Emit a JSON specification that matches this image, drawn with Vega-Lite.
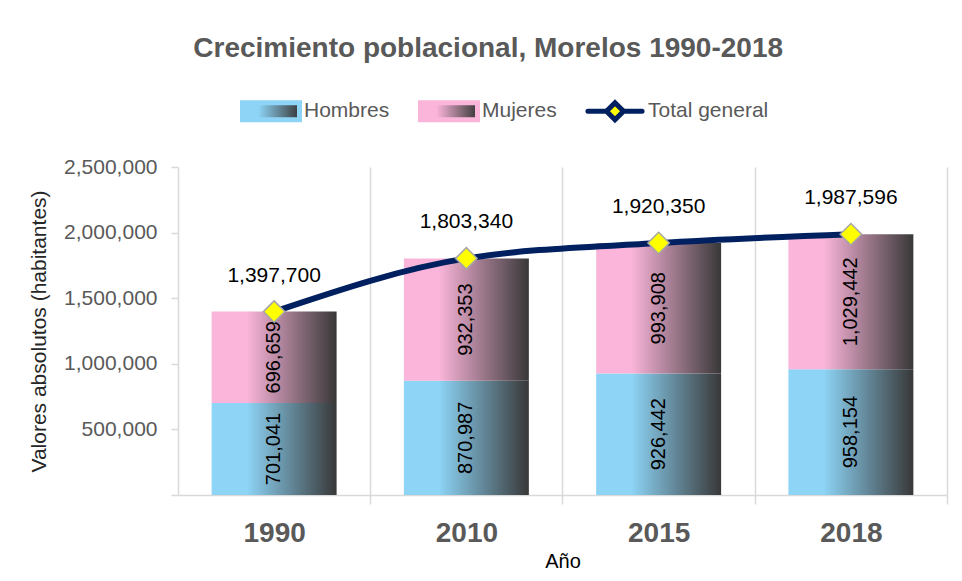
{
  "$schema": "https://vega.github.io/schema/vega-lite/v6.json",
  "width": 769,
  "height": 328,
  "autosize": {"type": "none"},
  "padding": {"left": 178, "top": 167, "right": 15, "bottom": 86},
  "background": "white",
  "title": {
    "text": "Crecimiento poblacional, Morelos 1990-2018",
    "font": "Liberation Sans",
    "fontSize": 28,
    "fontWeight": "bold",
    "color": "#595959",
    "anchor": "middle",
    "frame": "bounds",
    "offset": 17
  },
  "datasets": {
    "barras": [
      {"anio": "1990", "serie": "Hombres", "valor": 701041},
      {"anio": "1990", "serie": "Mujeres", "valor": 696659},
      {"anio": "2010", "serie": "Hombres", "valor": 870987},
      {"anio": "2010", "serie": "Mujeres", "valor": 932353},
      {"anio": "2015", "serie": "Hombres", "valor": 926442},
      {"anio": "2015", "serie": "Mujeres", "valor": 993908},
      {"anio": "2018", "serie": "Hombres", "valor": 958154},
      {"anio": "2018", "serie": "Mujeres", "valor": 1029442}
    ],
    "total": [
      {"anio": "1990", "total": 1397700},
      {"anio": "2010", "total": 1803340},
      {"anio": "2015", "total": 1920350},
      {"anio": "2018", "total": 1987596}
    ]
  },
  "layer": [
    {
      "data": {"name": "barras"},
      "transform": [
        {"stack": "valor", "groupby": ["anio"], "sort": [{"field": "serie", "order": "ascending"}], "as": ["v0", "v1"]},
        {"filter": "datum.serie === 'Hombres'"}
      ],
      "mark": {
        "type": "bar",
        "color": {"gradient": "linear", "stops": [
          {"offset": 0, "color": "#8DD4F6"},
          {"offset": 0.28, "color": "#8DD4F6"},
          {"offset": 1, "color": "#383838"}
        ]}
      },
      "encoding": {
        "x": {
          "field": "anio", "type": "nominal", "title": "Año",
          "scale": {"paddingInner": 0.35, "paddingOuter": 0.175},
          "axis": {"grid": true, "bandPosition": 1, "tickExtra": false, "tickOffset": 33.6, "labelOffset": -33.6, "labelAngle": 0}
        },
        "y": {
          "field": "v1", "type": "quantitative",
          "title": "Valores absolutos (habitantes)",
          "scale": {"domain": [0, 2500000], "nice": false, "zero": true},
          "axis": {
            "values": [0, 500000, 1000000, 1500000, 2000000, 2500000],
            "labelExpr": "datum.value === 0 ? '' : format(datum.value, ',')",
            "grid": false
          }
        },
        "y2": {"field": "v0"}
      }
    },
    {
      "data": {"name": "barras"},
      "transform": [
        {"stack": "valor", "groupby": ["anio"], "sort": [{"field": "serie", "order": "ascending"}], "as": ["v0", "v1"]},
        {"filter": "datum.serie === 'Mujeres'"}
      ],
      "mark": {
        "type": "bar",
        "color": {"gradient": "linear", "stops": [
          {"offset": 0, "color": "#FBB5DA"},
          {"offset": 0.28, "color": "#FBB5DA"},
          {"offset": 1, "color": "#383838"}
        ]}
      },
      "encoding": {
        "x": {"field": "anio", "type": "nominal", "title": "Año"},
        "y": {"field": "v1", "type": "quantitative", "title": "Valores absolutos (habitantes)"},
        "y2": {"field": "v0"}
      }
    },
    {
      "data": {"name": "barras"},
      "mark": {"type": "text", "angle": 270, "font": "Liberation Sans", "fontSize": 20, "color": "#000000", "align": "center", "baseline": "middle"},
      "encoding": {
        "x": {"field": "anio", "type": "nominal", "title": "Año"},
        "y": {"field": "valor", "type": "quantitative", "stack": "zero", "bandPosition": 0.5, "title": "Valores absolutos (habitantes)"},
        "detail": {"field": "serie"},
        "order": {"field": "serie", "sort": "ascending"},
        "text": {"field": "valor", "type": "quantitative", "format": ","}
      }
    },
    {
      "data": {"name": "total"},
      "mark": {"type": "line", "interpolate": "monotone", "strokeWidth": 6, "strokeCap": "round"},
      "encoding": {
        "x": {"field": "anio", "type": "nominal", "title": "Año"},
        "y": {"field": "total", "type": "quantitative", "title": "Valores absolutos (habitantes)"},
        "color": {
          "datum": "Total general", "type": "nominal",
          "scale": {"domain": ["Hombres", "Mujeres", "Total general"], "range": ["#8DD4F6", "#FBB5DA", "#002060"]},
          "legend": {
            "title": null,
            "orient": "none",
            "legendX": 62,
            "legendY": -87,
            "direction": "horizontal",
            "encode": {
              "symbols": {
                "update": {
                  "shape": {"signal": "datum.value === 'Total general' ? 'M-0.95,0H-0.34M0.34,0H0.95M0,-0.3L0.3,0L0,0.3L-0.3,0Z' : 'M-1,-0.3H1V0.3H-1Z'"},
                  "fill": {"signal": "datum.value === 'Total general' ? '#FFFF00' : (datum.value === 'Hombres' ? {gradient: 'linear', stops: [{offset: 0, color: '#8DD4F6'}, {offset: 0.28, color: '#8DD4F6'}, {offset: 1, color: '#383838'}]} : {gradient: 'linear', stops: [{offset: 0, color: '#FBB5DA'}, {offset: 0.28, color: '#FBB5DA'}, {offset: 1, color: '#383838'}]})"},
                  "stroke": {"signal": "datum.value === 'Total general' ? '#002060' : 'transparent'"},
                  "strokeWidth": {"value": 5},
                  "strokeCap": {"value": "round"},
                  "opacity": {"value": 1}
                }
              }
            }
          }
        }
      }
    },
    {
      "data": {"name": "total"},
      "mark": {"type": "point", "shape": "diamond", "filled": true, "fill": "#FFFF00", "stroke": "#A6A6A6", "strokeWidth": 1.5, "size": 460, "opacity": 1},
      "encoding": {
        "x": {"field": "anio", "type": "nominal", "title": "Año"},
        "y": {"field": "total", "type": "quantitative", "title": "Valores absolutos (habitantes)"}
      }
    },
    {
      "data": {"name": "total"},
      "mark": {"type": "text", "dy": -36, "font": "Liberation Sans", "fontSize": 21, "color": "#000000", "baseline": "middle"},
      "encoding": {
        "x": {"field": "anio", "type": "nominal", "title": "Año"},
        "y": {"field": "total", "type": "quantitative", "title": "Valores absolutos (habitantes)"},
        "text": {"field": "total", "type": "quantitative", "format": ","}
      }
    }
  ],
  "config": {
    "view": {"stroke": null},
    "axisX": {
      "gridColor": "#D9D9D9", "gridWidth": 1.5,
      "domainColor": "#D9D9D9", "domainWidth": 1.5,
      "tickColor": "#D9D9D9", "tickWidth": 1.5, "tickSize": 9,
      "labelFont": "Liberation Sans", "labelFontSize": 28, "labelFontWeight": "bold", "labelColor": "#595959", "labelPadding": 15,
      "titleFont": "Liberation Sans", "titleFontSize": 20, "titleColor": "#000000", "titleFontWeight": "normal", "titlePadding": 4
    },
    "axisY": {
      "domainColor": "#D9D9D9", "domainWidth": 1.5,
      "tickColor": "#D9D9D9", "tickWidth": 1.5, "tickSize": 7,
      "labelFont": "Liberation Sans", "labelFontSize": 21, "labelColor": "#595959", "labelPadding": 14,
      "titleFont": "Liberation Sans", "titleFontSize": 21, "titleColor": "#262626", "titleFontWeight": "normal", "titlePadding": 14
    },
    "legend": {
      "labelFont": "Liberation Sans", "labelFontSize": 21, "labelColor": "#595959",
      "symbolSize": 3249, "labelOffset": 2, "columnPadding": 20
    }
  }
}
